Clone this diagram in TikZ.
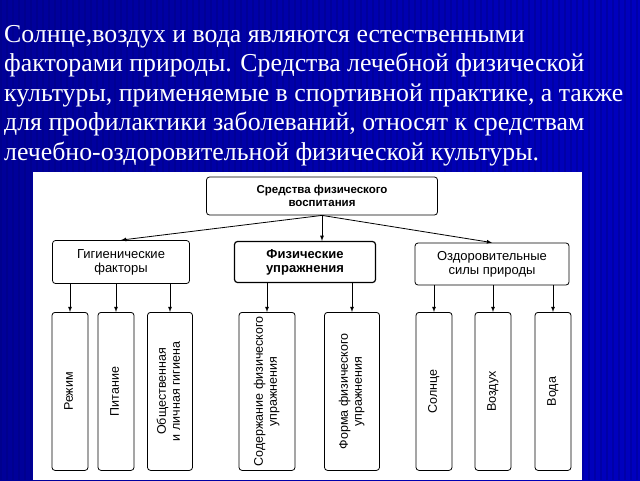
\documentclass[tikz,border=0pt]{standalone}
\usepackage{fontspec}
\setmainfont{Liberation Serif}
\setsansfont{Liberation Sans}
\usetikzlibrary{positioning}
\tikzset{
  box/.style={draw,thick,rounded corners=3pt,fill=white,align=center,font=\sffamily\fontsize{13}{14}\selectfont,inner sep=2pt},
  cell/.style={box,minimum height=158pt,anchor=north,font=\sffamily\fontsize{12.5}{14}\selectfont},
  link/.style={thick,-latex}
}
\begin{document}
\begin{tikzpicture}[x=1pt,y=-1pt]
	\useasboundingbox (0,0) rectangle (640,480);
	% background
	\shade[left color=blue!60!black,right color=blue!75!black] (0,0) rectangle (640,480);
	\foreach \i in {0,6,...,636}
		\fill[blue!45!black,opacity=0.3] (\i,0) rectangle ++(2,480);
	\fill[white] (33,172) rectangle (582,480);
	
	\node[anchor=north west,text=white,align=left,font=\fontsize{25.8}{29.5}\selectfont,inner sep=0pt] (title) at (4,25)
		{Солнце,воздух и вода являются естественными\\факторами природы. Средства лечебной физической\\культуры, применяемые в спортивной практике, а также\\для профилактики заболеваний, относят к средствам\\лечебно-оздоровительной физической культуры.};
	
	% levels
	\node[box,font=\sffamily\bfseries\fontsize{11.5}{13}\selectfont,minimum width=231pt,minimum height=38pt] (means) at (322,196) {Средства физического\\воспитания};
	\node[box,minimum width=137pt,minimum height=43pt] (hyg) at (121,262) {Гигиенические\\факторы};
	\node[box,very thick,font=\sffamily\bfseries\fontsize{13}{14}\selectfont,minimum width=141pt,minimum height=41pt] (ex) at (305,262) {Физические\\упражнения};
	\node[box,minimum width=154pt,minimum height=42pt] (nat) at (492,264) {Оздоровительные\\силы природы};
	
	\draw[link] (means.south) -- (hyg.north);
	\draw[link] (means.south) -- (means.south |- ex.north);
	\draw[link] (means.south) -- (nat.north);
	
	% bottom cells
	\foreach \name/\cx/\w/\txt in {
		rez/70/36/Режим,
		pit/116/36/Питание,
		obs/170/45/{Общественная\\и личная гигиена},
		sod/267/56/{Содержание физического\\упражнения},
		form/352/55/{Форма физического\\упражнения},
		sun/434/36/Солнце,
		air/493/36/Воздух,
		wat/553/36/Вода}
		\node[cell,minimum width=\w pt] (\name) at (\cx,312) {\rotatebox{90}{\begin{tabular}{@{}c@{}}\txt\end{tabular}}};
	
	\foreach \src/\dst in {hyg/rez,hyg/pit,hyg/obs,ex/sod,ex/form,nat/sun,nat/air,nat/wat}
		\draw[link] (\src.south -| \dst.north) -- (\dst.north);
\end{tikzpicture}
\end{document}
